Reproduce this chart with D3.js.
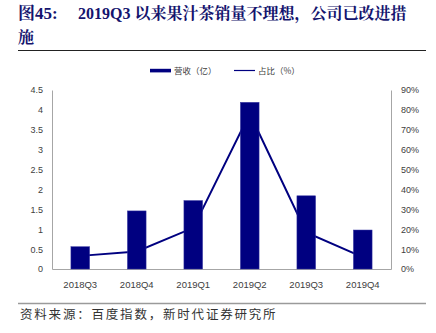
<!DOCTYPE html>
<html><head><meta charset="utf-8">
<script src="https://cdn.jsdelivr.net/npm/d3@7"></script>
<style>
html,body{margin:0;padding:0;background:#fff;}
svg{display:block;}
</style></head>
<body>
<svg id="c" width="436" height="333"></svg>
<script>
const categories = ["2018Q3","2018Q4","2019Q1","2019Q2","2019Q3","2019Q4"];
const revenue = [0.56, 1.46, 1.72, 4.19, 1.84, 0.98];
const share = [6.6, 8.8, 20.7, 78.2, 18.4, 6.0];
const leftTicks = [0,0.5,1,1.5,2,2.5,3,3.5,4,4.5];
const rightTicks = [0,10,20,30,40,50,60,70,80,90];
const seriesNames = ["营收（亿）","占比（%）"];
const titleLabel = "图45:";
const titleLine1 = "2019Q3 以来果汁茶销量不理想，公司已改进措";
const titleLine2 = "施";
const sourceText = "资料来源：百度指数，新时代证券研究所";

const svg = d3.select("#c");
const L = 52, R = 391, T = 90, B = 269;
const navy = "#000080";
const titleColor = "#14146e";
const axisGray = "#a6a6a6";
const tickColor = "#404040";

const x = d3.scaleBand().domain(categories).range([L, R]).paddingInner(0.67).paddingOuter(0.335);
const yL = d3.scaleLinear().domain([0, 4.5]).range([B, T]);
const yR = d3.scaleLinear().domain([0, 90]).range([B, T]);

// Title
const tf = "'Liberation Serif','Noto Serif CJK SC','Noto Sans CJK SC',serif";
svg.append("text").attr("x", 18).attr("y", 19).attr("font-family", tf).attr("font-weight", 700)
  .attr("font-size", 17).attr("fill", titleColor).text(titleLabel);
svg.append("text").attr("x", 78).attr("y", 19).attr("font-family", tf).attr("font-weight", 700)
  .attr("font-size", 16).attr("fill", titleColor).text(titleLine1);
svg.append("text").attr("x", 18).attr("y", 43).attr("font-family", tf).attr("font-weight", 700)
  .attr("font-size", 16).attr("fill", titleColor).text(titleLine2);
svg.append("line").attr("x1", 18).attr("x2", 426).attr("y1", 50.5).attr("y2", 50.5)
  .attr("stroke", "#222").attr("stroke-width", 1.2);

// Legend
const lg = svg.append("g").attr("font-family", "'Noto Sans CJK SC',sans-serif").attr("font-size", 8.5).attr("fill", "#404040");
lg.append("rect").attr("x", 150).attr("y", 68.8).attr("width", 21).attr("height", 3.6).attr("fill", navy);
lg.append("text").attr("x", 174).attr("y", 73.5).text(seriesNames[0]);
lg.append("line").attr("x1", 234).attr("x2", 255).attr("y1", 70.5).attr("y2", 70.5).attr("stroke", navy).attr("stroke-width", 1.2);
lg.append("text").attr("x", 258).attr("y", 73.5).text(seriesNames[1]);

// Axes
const af = "'Liberation Sans',Arial,sans-serif";
const gL = svg.append("g").attr("transform", `translate(${L},0)`)
  .call(d3.axisLeft(yL).tickValues(leftTicks).tickSize(0).tickPadding(9).tickFormat(d => d3.format("")(d)));
const gR = svg.append("g").attr("transform", `translate(${R},0)`)
  .call(d3.axisRight(yR).tickValues(rightTicks).tickSize(0).tickPadding(10).tickFormat(d => d + "%"));
const gB = svg.append("g").attr("transform", `translate(0,${B})`)
  .call(d3.axisBottom(x).tickSize(0).tickPadding(12));
[gL, gR, gB].forEach(g => {
  g.selectAll(".domain").attr("stroke", axisGray).attr("stroke-width", 1);
  g.selectAll("text").attr("font-family", af).attr("font-size", 9).attr("fill", tickColor);
});
gB.selectAll("text").attr("font-size", 9.5);

// Line (behind bars)
const line = d3.line().x((d, i) => x(categories[i]) + x.bandwidth() / 2).y(d => yR(d));
svg.append("path").datum(share).attr("d", line).attr("fill", "none")
  .attr("stroke", navy).attr("stroke-width", 2);

// Bars
svg.append("g").selectAll("rect").data(revenue).join("rect")
  .attr("x", (d, i) => x(categories[i]))
  .attr("width", x.bandwidth())
  .attr("y", d => yL(d))
  .attr("height", d => yL(0) - yL(d))
  .attr("fill", navy).attr("stroke", "#3434a0").attr("stroke-width", 0.5);

// Bottom rule & source
svg.append("line").attr("x1", 18).attr("x2", 426).attr("y1", 303.5).attr("y2", 303.5)
  .attr("stroke", "#9a9a9a").attr("stroke-width", 1.6);
svg.append("text").attr("x", 20).attr("y", 319).attr("font-family", "'Noto Sans CJK SC',sans-serif")
  .attr("font-size", 12.5).attr("letter-spacing", 1.8).attr("fill", "#333").text(sourceText);
</script>
</body></html>
